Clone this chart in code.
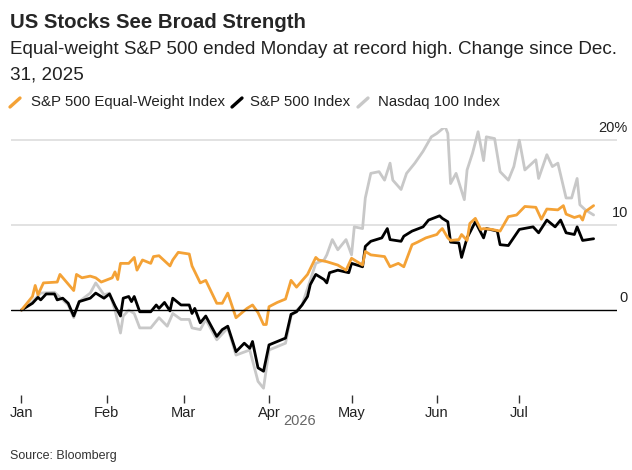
import numpy as np, pandas as pd, seaborn as sns, matplotlib
matplotlib.use("Agg")
import matplotlib.pyplot as plt
import matplotlib.dates as mdates

# day offsets since Jan 1 2026 and % change values
eq_days = [0,4,5,6,8,13,14,19,20,22,25,27,29,33,34,35,36,39,41,42,44,47,48,50,54,55,57,61,62,65,67,71,73,75,78,82,84,86,88,89,90,93,96,98,100,104,107,108,111,115,118,120,124,125,127,132,133,134,137,139,142,144,147,151,152,153,155,156,159,160,162,163,165,167,168,171,174,177,180,183,187,189,191,195,197,198,201,203,204,205,208]
eq_vals = [0,1.6,2.9,1.8,3.2,3.3,4.2,2.3,4.2,3.8,4.0,3.8,3.3,3.8,4.5,3.6,5.5,5.5,6.2,4.7,5.9,5.5,6.3,6.4,5.2,5.9,6.8,6.6,5.2,3.2,3.5,0.8,0.8,2.0,-0.9,0.2,0.6,-0.3,-1.7,-1.7,0.4,0.9,1.3,3.5,2.7,4.2,6.2,5.9,5.7,5.3,4.7,6.1,5.3,6.9,6.5,6.3,5.7,5.1,5.5,5.1,7.7,8.0,8.5,8.9,9.3,9.6,8.5,8.2,8.3,8.9,8.2,10.2,10.8,9.5,9.6,9.5,9.3,11.0,11.2,12.2,12.1,10.7,11.9,11.8,12.3,11.3,10.9,11.1,10.6,11.6,12.3]
sp_days = [0,4,6,7,9,12,13,15,17,19,21,25,27,30,32,34,36,37,39,40,41,43,47,49,50,52,54,55,58,61,62,63,65,67,71,73,75,78,81,83,84,86,88,90,93,96,98,100,102,104,105,107,108,110,111,112,115,119,120,124,125,127,131,133,134,138,139,142,146,148,152,153,155,156,159,160,162,165,168,169,173,174,177,181,186,188,191,194,196,198,201,202,204,208]
sp_vals = [0,0.8,1.5,1.2,1.9,1.9,1.2,1.4,0.8,-0.7,1.0,1.4,2.0,1.4,1.9,0.5,-0.7,1.4,1.6,1.0,1.6,-0.2,-0.2,0.6,0.2,0.9,-0.1,1.4,0.6,0.6,-0.4,0.2,-1.5,-0.7,-3.1,-2.3,-1.9,-4.9,-3.9,-4.5,-3.7,-6.8,-7.2,-4.1,-3.7,-3.3,-0.5,-0.2,0.6,1.6,3.0,4.2,4.0,3.6,3.2,4.4,4.7,4.4,5.5,5.1,7.5,8.1,8.5,9.6,8.3,8.1,8.7,9.3,9.8,10.6,11.1,10.8,10.4,8.0,7.9,6.2,8.5,10.4,8.5,9.6,9.3,7.7,7.6,9.5,9.8,9.1,10.6,9.8,10.6,9.1,8.9,9.8,8.2,8.4]
nd_days = [0,4,7,12,17,19,21,25,27,30,32,34,36,37,39,41,43,47,50,53,55,58,61,62,65,67,71,75,78,83,86,88,90,96,98,102,107,110,111,113,115,118,120,121,124,125,127,130,132,134,135,138,140,143,146,149,151,154,155,156,158,161,162,164,166,168,169,172,174,177,179,181,183,187,188,191,193,195,198,200,202,203,205,208]
nd_vals = [0,1.0,2.0,2.1,0.6,-0.9,1.0,2.0,3.2,1.8,2.0,0.0,-2.7,-0.7,0.0,-0.4,-2.1,-2.1,-0.9,-1.9,-0.4,-1.1,-1.1,-2.1,-2.3,-1.1,-3.5,-2.1,-5.3,-4.7,-8.4,-9.2,-4.7,-3.9,-0.7,0.6,5.5,5.9,6.5,8.3,7.1,8.3,6.5,9.8,9.6,13.2,16.1,16.3,15.3,17.3,15.3,14.2,16.1,17.3,18.7,20.4,20.8,21.6,20.8,14.9,16.1,13.0,16.5,18.5,21.0,17.6,20.4,20.2,16.3,15.3,16.9,20.0,16.5,17.7,15.5,18.3,16.9,17.3,13.2,13.2,15.5,12.4,11.8,11.2]
series_names = ["S&P 500 Equal-Weight Index", "S&P 500 Index", "Nasdaq 100 Index"]
colors = ["#F4A236", "#000000", "#C8C8C8"]
yticks = [0, 10, 20]
ytick_labels = ["0", "10", "20%"]
months = ["Jan", "Feb", "Mar", "Apr", "May", "Jun", "Jul"]

start = pd.Timestamp("2026-01-01")
frames = []
for name, d, v in [(series_names[2], nd_days, nd_vals), (series_names[1], sp_days, sp_vals), (series_names[0], eq_days, eq_vals)]:
    frames.append(pd.DataFrame({"date": start + pd.to_timedelta(d, unit="D"), "val": v, "series": name}))
df = pd.concat(frames)

sns.set_style("white")
plt.rcParams["font.family"] = ["Liberation Sans", "DejaVu Sans"]
fig = plt.figure(figsize=(6.32, 4.7), dpi=100)
ax = fig.add_axes([11/632, 1-395/470, (617-11)/632, (395-127.5)/470])
pal = {series_names[0]: colors[0], series_names[1]: colors[1], series_names[2]: colors[2]}
sns.lineplot(data=df, x="date", y="val", hue="series", palette=pal, hue_order=series_names[::-1],
             ax=ax, linewidth=2, legend=False, sort=False)
ax.set_ylim(-10, 21.5)
ax.set_xlim(start - pd.Timedelta(days=3.8), start + pd.Timedelta(days=216.5))
for y in yticks:
    ax.axhline(y, color="black" if y == 0 else "#DDDDDD", lw=1 if y == 0 else 1.2, zorder=0 if y else 3)
for s in ax.spines.values():
    s.set_visible(False)
ax.set_yticks([])
ax.set_xlabel(""); ax.set_ylabel("")
for y, lab in zip(yticks, ytick_labels):
    ax.text(1.018, y + 0.6, lab, transform=ax.get_yaxis_transform(), ha="right", va="bottom", fontsize=10.5, color="#222222")
mt = [pd.Timestamp(f"2026-{m:02d}-01") for m in range(1, 8)]
ax.set_xticks(mt)
ax.set_xticklabels(months, fontsize=10.5, color="#222222")
ax.tick_params(axis="x", length=6, width=1, color="#333333", direction="out", pad=2, bottom=True)
fig.text(300/632, 1-421/470, "2026", ha="center", va="center", fontsize=10.5, color="#666666")

fig.text(10/632, 1-22/470, "US Stocks See Broad Strength", fontsize=14.7, fontweight="bold", va="center")
fig.text(10/632, 1-50/470, "Equal-weight S&P 500 ended Monday at record high. Change since Dec.", fontsize=13.6, va="center", color="#222222")
fig.text(10/632, 1-75/470, "31, 2025", fontsize=13.6, va="center", color="#222222")
for name, c, mx, tx in zip(series_names, colors, [10, 232, 358], [31, 250, 378]):
    fig.add_artist(plt.Line2D([mx/632, (mx+10)/632], [1-107/470, 1-98/470], color=c, lw=2.4))
    fig.text(tx/632, 1-102/470, name, fontsize=10.8, va="center", color="#222222")
fig.text(10/632, 1-456/470, "Source: Bloomberg", fontsize=9, va="center", color="#333333")
fig.savefig("out.png", dpi=100)
